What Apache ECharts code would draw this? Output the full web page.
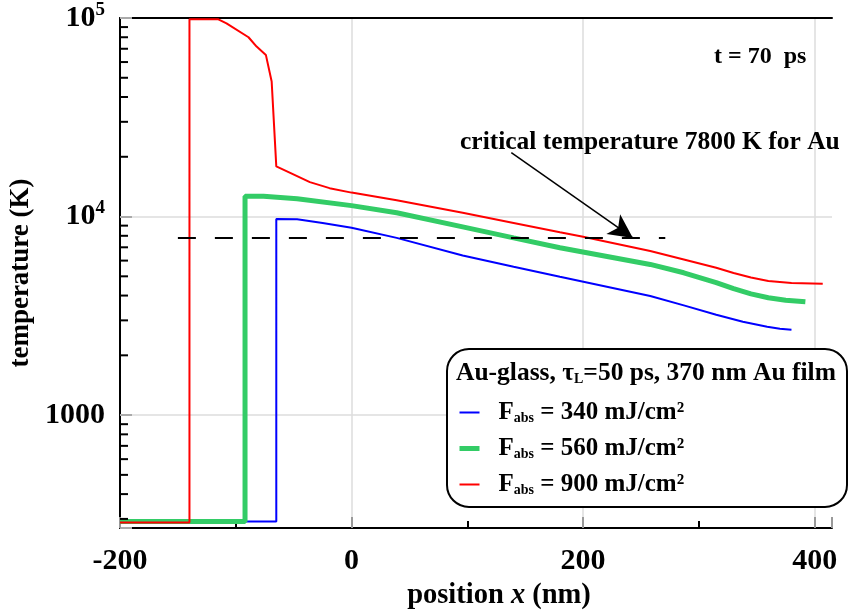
<!DOCTYPE html>
<html>
<head>
<meta charset="utf-8">
<script src="https://cdn.jsdelivr.net/npm/echarts@6/dist/echarts.min.js"></script>
<style>html,body{margin:0;padding:0;background:#fff}#c{width:848px;height:612px}</style>
</head>
<body>
<div id="c"></div>
<script>
// ---- data ----
const redX   = [-200, -140, -140, -115, -108, -89, -82, -74, -69, -65, -53, -36, -19, 0, 39, 96, 140, 180, 200, 258, 287, 315, 330, 345, 360, 380, 407];
const redT   = [288, 288, 98500, 98500, 94000, 80000, 71800, 65200, 47900, 17900, 16600, 14900, 13900, 13200, 12080, 10450, 9290, 8340, 7910, 6700, 6080, 5520, 5200, 4930, 4740, 4630, 4590];
const greenX = [-200, -92, -92, -76, -47, 0, 39, 96, 140, 180, 258, 287, 315, 330, 345, 360, 375, 392];
const greenT = [291, 291, 12640, 12640, 12280, 11350, 10450, 8870, 7810, 6960, 5740, 5210, 4650, 4330, 4080, 3900, 3790, 3720];
const blueX  = [-200, -65, -65, -47, -25, 0, 39, 96, 140, 180, 258, 287, 315, 338, 359, 370, 380];
const blueT  = [291, 291, 9730, 9680, 9290, 8780, 7810, 6370, 5590, 4980, 3980, 3570, 3200, 2950, 2785, 2722, 2690];
const criticalX = [-150, 271];
const criticalT = [7800, 7800];
const arrowFrom = [138, 21000];
const arrowTo = [243, 7800];
const seriesNames = ['340', '560', '900'];
const yMinorTicks = [300,400,500,600,700,800,900,2000,3000,4000,5000,6000,7000,8000,9000,20000,30000,40000,50000,60000,70000,80000,90000];
const xMin = -200, xMax = 415, yMin = 270, yMax = 100000;

const pairs = (xs, ys) => xs.map((x, i) => [x, ys[i]]);
const FF = 'Liberation Serif';
const lineWidths = {F340: 2, F560: 5, F900: 2};
const lineColors = {F340: '#0000ff', F560: '#33cc66', F900: '#ff0000'};

const chart = echarts.init(document.getElementById('c'), null, {renderer: 'canvas'});
const option = {
  animation: false,
  backgroundColor: '#fff',
  grid: {left: 120, right: 16, top: 18, bottom: 84, outerBoundsMode: 'none'},
  xAxis: [{
    type: 'value', min: xMin, max: xMax, interval: 200,
    name: '{a|position }{i|x}{a| (nm)}', nameLocation: 'middle', nameGap: 49,
    nameTextStyle: {padding: [0, 0, 0, 46], rich: {
      a: {fontFamily: FF, fontWeight: 'bold', fontSize: 28.5, color: '#000'},
      i: {fontFamily: FF, fontWeight: 'bold', fontStyle: 'italic', fontSize: 28.5, color: '#000'}
    }},
    axisLine: {show: true, onZero: false, lineStyle: {color: '#000', width: 2}},
    axisTick: {show: true, inside: true, length: 11, lineStyle: {color: '#999', width: 2}},
    minorTick: {show: true, splitNumber: 2, length: 7, lineStyle: {color: '#000', width: 2}},
    splitLine: {show: true, showMaxLine: false, lineStyle: {color: '#dcdcdc', width: 1.5}},
    axisLabel: {
      showMaxLabel: false, margin: 18,
      fontFamily: FF, fontWeight: 'bold', fontSize: 30, color: '#000',
      formatter: v => (v % 200 === 0 ? String(v) : '')
    }
  }, {
    type: 'value', position: 'top', min: xMin, max: xMax,
    axisLine: {show: true, onZero: false, lineStyle: {color: '#000', width: 2}},
    axisTick: {show: false}, axisLabel: {show: false}, splitLine: {show: false}
  }],
  yAxis: {
    type: 'log', logBase: 10, min: yMin, max: yMax, splitNumber: 3,
    name: 'temperature (K)', nameLocation: 'middle', nameGap: 74,
    nameTextStyle: {fontFamily: FF, fontWeight: 'bold', fontSize: 27, color: '#000'},
    axisLine: {show: true, onZero: false, lineStyle: {color: '#000', width: 2}},
    axisTick: {show: true, inside: true, length: 12, lineStyle: {color: '#aaa', width: 2}},
    splitLine: {show: true, lineStyle: {color: '#dcdcdc', width: 1.5}},
    axisLabel: {
      margin: 15,
      formatter: v => {
        const l = Math.log10(v), e = Math.round(l);
        if (Math.abs(l - e) > 1e-6) return '';
        if (e === 3) return '{n|1000}';
        return '{n|10}{s|' + e + '}';
      },
      rich: {
        n: {fontFamily: FF, fontWeight: 'bold', fontSize: 30, color: '#000'},
        s: {fontFamily: FF, fontWeight: 'bold', fontSize: 19, color: '#000', padding: [0, 0, 16, 0]}
      }
    }
  },
  legend: {
    orient: 'vertical', left: 452, top: 395, z: 20,
    itemWidth: 20, itemHeight: 14, itemGap: 10.5,
    itemStyle: {opacity: 0},
    data: seriesNames.map(n => ({
      name: 'F' + n,
      lineStyle: {width: lineWidths['F' + n], color: lineColors['F' + n]}
    })),
    formatter: name => '{f|F}{b|abs}{t| = ' + name.slice(1) + ' mJ/cm²}',
    textStyle: {
      rich: {
        f: {fontFamily: FF, fontWeight: 'bold', fontSize: 25, color: '#000', padding: [0, 0, 0, 14]},
        b: {fontFamily: FF, fontWeight: 'bold', fontSize: 14, color: '#000', padding: [12, 0, 0, 0]},
        t: {fontFamily: FF, fontWeight: 'bold', fontSize: 25, color: '#000'}
      }
    }
  },
  graphic: [
    {type: 'rect', z: 15, shape: {x: 447, y: 349, width: 400, height: 158, r: 22},
     style: {fill: '#fff', stroke: '#000', lineWidth: 2}},
    {type: 'text', z: 20, left: 456, top: 360,
     style: {
       text: '{a|Au-glass, τ}{s|L}{a|=50 ps, 370 nm Au film}',
       rich: {
         a: {fontFamily: FF, fontWeight: 'bold', fontSize: 25.5, fill: '#000'},
         s: {fontFamily: FF, fontWeight: 'bold', fontSize: 14, fill: '#000', padding: [12, 0, 0, 0]}
       }
     }},
    {type: 'text', z: 20, left: 460, top: 129,
     style: {text: 'critical temperature 7800 K for Au', fontFamily: FF, fontWeight: 'bold', fontSize: 25.5, fill: '#000'}},
    {type: 'text', z: 20, left: 714, top: 45,
     style: {text: 't = 70  ps', fontFamily: FF, fontWeight: 'bold', fontSize: 24, fill: '#000'}}
  ],
  series: [
    {
      name: 'F340', type: 'line', data: pairs(blueX, blueT), showSymbol: false, symbol: 'none',
      lineStyle: {color: lineColors.F340, width: lineWidths.F340}, itemStyle: {color: lineColors.F340}, z: 3
    },
    {
      name: 'F560', type: 'line', data: pairs(greenX, greenT), showSymbol: false, symbol: 'none',
      lineStyle: {color: lineColors.F560, width: lineWidths.F560}, itemStyle: {color: lineColors.F560}, z: 3
    },
    {
      name: 'F900', type: 'line', data: pairs(redX, redT), showSymbol: false, symbol: 'none',
      lineStyle: {color: lineColors.F900, width: lineWidths.F900}, itemStyle: {color: lineColors.F900}, z: 4
    },
    {
      name: 'critical', type: 'line', data: pairs(criticalX, criticalT), showSymbol: false, symbol: 'none',
      lineStyle: {color: '#000', width: 2, type: [18, 19]}, z: 5,
      markLine: {
        silent: true, symbol: ['none', 'arrow'], symbolSize: [18, 24],
        label: {show: false},
        lineStyle: {color: '#000', width: 1.5, type: 'solid'},
        data: [[{coord: arrowFrom}, {coord: arrowTo}]]
      }
    },
    {
      name: 'minorTicks', type: 'custom', silent: true, z: 6,
      data: yMinorTicks.map(v => [xMin, v]),
      renderItem: (params, api) => {
        const p = api.coord([api.value(0), api.value(1)]);
        return {type: 'line', shape: {x1: p[0], y1: p[1], x2: p[0] + 8, y2: p[1]},
                style: {stroke: '#000', lineWidth: 2}};
      }
    }
  ]
};
chart.setOption(option);
</script>
</body>
</html>
